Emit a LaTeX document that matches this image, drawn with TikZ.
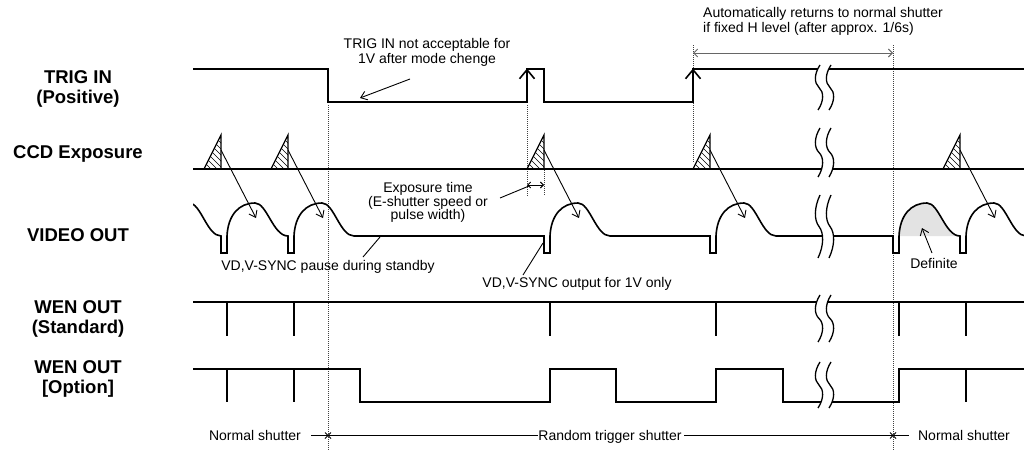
\documentclass[tikz,border=0pt]{standalone}
\usepackage{fontspec}
\setmainfont{Liberation Sans}
\usetikzlibrary{arrows.meta}
\newcommand\brkmark[2]{%
 \pgfmathsetmacro\bA{#1+0.2*(#2-#1)}%
 \pgfmathsetmacro\bB{#1+0.4*(#2-#1)}%
 \pgfmathsetmacro\bM{#1+0.5*(#2-#1)}%
 \pgfmathsetmacro\bC{#1+0.6*(#2-#1)}%
 \pgfmathsetmacro\bD{#1+0.8*(#2-#1)}%
 \fill[white] (820,#1) .. controls (814,\bA) and (814,\bB) .. (819,\bM) .. controls (824,\bC) and (824,\bD) .. (818,#2) -- (829,#2) .. controls (835,\bD) and (835,\bC) .. (830,\bM) .. controls (825,\bB) and (825,\bA) .. (831,#1) -- cycle;
 \draw[brk] (820,#1) .. controls (814,\bA) and (814,\bB) .. (819,\bM) .. controls (824,\bC) and (824,\bD) .. (818,#2);
 \draw[brk] (831,#1) .. controls (825,\bA) and (825,\bB) .. (830,\bM) .. controls (835,\bC) and (835,\bD) .. (829,#2);
}
\begin{document}
\begin{tikzpicture}[x=1pt,y=-1pt,
 sig/.style={line width=1.6pt, line join=miter},
 ann/.style={line width=0.9pt},
 guide/.style={densely dotted, line width=1pt, black!75},
 brk/.style={line width=1.3pt},
 lbl/.style={font=\fontsize{18.5}{20}\selectfont\bfseries, inner sep=0pt, anchor=base},
 txt/.style={font=\fontsize{14}{15}\selectfont, inner sep=0pt, anchor=base},
 barb/.style={-{Straight Barb[length=6pt,width=9pt]}},
 trigarrow/.style={line width=1.6pt, -{Straight Barb[length=9pt,width=15pt]}},
 ]
\fill[white] (0,0) rectangle (1024,450);
\useasboundingbox (0,0) rectangle (1024,450);

% left labels
\node[lbl] (l1a) at (78,83.6) {TRIG IN};
\node[lbl] (l1b) at (78,103.6) {(Positive)};
\node[lbl] (l2) at (78,158.6) {CCD Exposure};
\node[lbl] (l3) at (78,241.6) {VIDEO OUT};
\node[lbl] (l4a) at (78,313.6) {WEN OUT};
\node[lbl] (l4b) at (78,333.6) {(Standard)};
\node[lbl] (l5a) at (78,373.6) {WEN OUT};
\node[lbl] (l5b) at (78,393.6) {[Option]};

% guides
\draw[guide] (328,105) -- (328,450);
\draw[guide] (527,105) -- (527,196);
\draw[guide] (544,170) -- (544,196);
\draw[guide] (693,45) -- (693,162);
\draw[guide] (893,45) -- (893,450);

% TRIG IN
\draw[sig] (193,69) -- (328,69) -- (328,102) -- (527,102) -- (527,69) -- (544,69) -- (544,102) -- (693,102) -- (693,69) -- (1024,69);
\draw[trigarrow] (527,90) -- (527,68.5);
\draw[trigarrow] (693,90) -- (693,68.5);

% CCD exposure
\draw[sig] (193,169) -- (1024,169);
\foreach \xr in {221,288,544,710,960} {
  \begin{scope}
   \clip ({\xr-17},169) -- (\xr,135) -- (\xr,169) -- cycle;
   \foreach \k in {0,...,12} \draw[line width=0.6pt] ({\xr-25},{100+\k*6}) -- ++(45,45);
  \end{scope}
  \draw[line width=1.2pt, line join=miter] ({\xr-17},169) -- (\xr,135) -- (\xr,169);
  \draw[ann, barb] (\xr,150) -- ({\xr+35},218);
}

% VIDEO OUT
\fill[black!11] (899,236) .. controls (900,215) and (911,203) .. (927,203) .. controls (939,203) and (945,236) .. (960,236) -- cycle;
\begin{scope}
\clip (193,180) rectangle (1024,262);
\draw[sig] (189,203) .. controls (201,203) and (207,236) .. (221,236) -- (221,253) -- (227,253) -- (227,236)
  .. controls (228,215) and (239,203) .. (255,203) .. controls (267,203) and (273,236) .. (288,236) -- (288,253) -- (294,253) -- (294,236)
  .. controls (295,215) and (306,203) .. (322,203) .. controls (334,203) and (340,236) .. (354,236) -- (544,236) -- (544,253) -- (550,253) -- (550,236)
  .. controls (551,215) and (562,203) .. (578,203) .. controls (590,203) and (596,236) .. (610,236) -- (710,236) -- (710,253) -- (716,253) -- (716,236)
  .. controls (717,215) and (728,203) .. (744,203) .. controls (756,203) and (762,236) .. (776,236) -- (893,236) -- (893,253) -- (899,253) -- (899,236)
  .. controls (900,215) and (911,203) .. (927,203) .. controls (939,203) and (945,236) .. (960,236) -- (960,253) -- (966,253) -- (966,236)
  .. controls (967,215) and (978,203) .. (994,203) .. controls (1006,203) and (1012,236) .. (1026,236);
\end{scope}

% WEN OUT standard
\draw[sig] (193,302) -- (1024,302);
\foreach \x in {227,294,550,716,899,966} \draw[sig] (\x,302) -- (\x,336);

% WEN OUT option
\draw[sig] (193,369) -- (360,369) -- (360,402) -- (550,402) -- (550,369) -- (616,369) -- (616,402) -- (716,402) -- (716,369) -- (783,369) -- (783,402) -- (899,402) -- (899,369) -- (1024,369);
\foreach \x in {227,294,966} \draw[sig] (\x,369) -- (\x,402);

% break marks
\brkmark{65}{110}
\brkmark{128}{177}
\brkmark{195}{258}
\brkmark{295}{342}
\brkmark{362}{408}

% annotations
\node[txt] (t1a) at (427,48) {TRIG IN not acceptable for};
\node[txt] (t1b) at (427,63) {1V after mode chenge};
\coordinate (t1s) at (410,79);
\coordinate (t1e) at (360,98);
\draw[ann, barb] (t1s) -- (t1e);

\node[txt, anchor=base west] (t2a) at (703,17) {Automatically returns to normal shutter};
\node[txt, anchor=base west] (t2b) at (703,32) {if fixed H level (after approx. 1/6s)};
\coordinate (a2l) at (693,53);
\coordinate (a2r) at (893,53);
\draw[ann, black!60, {Straight Barb[length=4pt,width=8pt]}-{Straight Barb[length=4pt,width=8pt]}] (a2l) -- (a2r);

\node[txt] (t3a) at (428,192) {Exposure time};
\node[txt] (t3b) at (428,206) {(E-shutter speed or};
\node[txt] (t3c) at (428,219) {pulse width)};
\coordinate (exl) at (527,185);
\coordinate (exr) at (544,185);
\draw[ann, {Straight Barb[length=3pt,width=6pt]}-{Straight Barb[length=3pt,width=6pt]}] (exl) -- (exr);
\coordinate (t3s) at (500,198);
\coordinate (t3e) at (529,186);
\draw[ann] (t3s) -- (t3e);

\node[txt] (t4) at (328,270) {VD,V-SYNC pause during standby};
\coordinate (t4s) at (363,257);
\coordinate (t4e) at (380,237);
\draw[ann] (t4s) -- (t4e);

\node[txt] (t5) at (577,287) {VD,V-SYNC output for 1V only};
\coordinate (t5s) at (523,275);
\coordinate (t5e) at (543,243);
\draw[ann] (t5s) -- (t5e);

\node[txt] (t6) at (934,268) {Definite};
\coordinate (t6s) at (932,253);
\coordinate (t6e) at (922,228);
\draw[ann, barb] (t6s) -- (t6e);

% bottom row
\node[txt] (b1) at (255,440) {Normal shutter};
\node[txt] (b2) at (610,440) {Random trigger shutter};
\node[txt] (b3) at (964,440) {Normal shutter};
\coordinate (c1) at (328,435.5);
\coordinate (c2) at (893,435.5);
\draw[line width=1pt] (311,435.5) -- (538,435.5);
\draw[line width=1pt] (684,435.5) -- (909,435.5);
\draw[ann] ([shift={(-3,-3)}]c1) -- ([shift={(3,3)}]c1) ([shift={(-3,3)}]c1) -- ([shift={(3,-3)}]c1);
\draw[ann] ([shift={(-3,-3)}]c2) -- ([shift={(3,3)}]c2) ([shift={(-3,3)}]c2) -- ([shift={(3,-3)}]c2);
\end{tikzpicture}
\end{document}
